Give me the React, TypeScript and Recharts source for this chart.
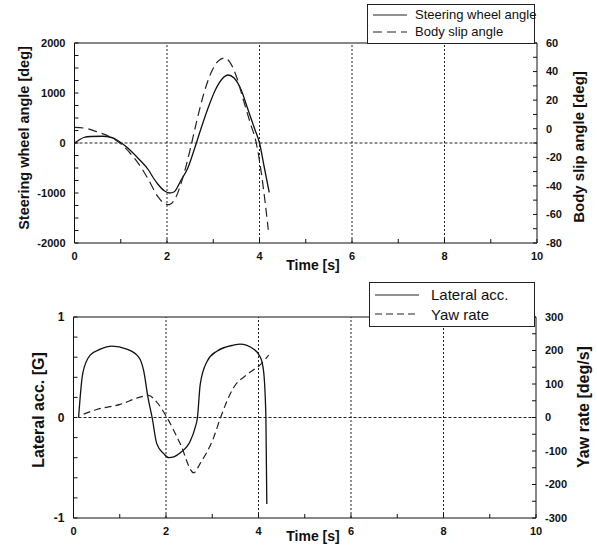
import { LineChart, Line, XAxis, YAxis, ReferenceLine, Legend } from 'recharts'

const FONT = '"Liberation Sans", Arial, Helvetica, sans-serif'

// shared time axis
const timeTicks = [0, 1, 2, 3, 4, 5, 6, 7, 8, 9, 10]
const timeLabels = [0, 2, 4, 6, 8, 10]
const gridTimes = [2, 4, 6, 8]

// upper panel: steering wheel angle [deg] (left) / body slip angle [deg] (right)
const steerTime = [0, 0.1, 0.2, 0.35, 0.6, 0.8, 0.9, 1.0, 1.2, 1.4, 1.6, 1.7, 1.8, 1.95, 2.05, 2.15, 2.3, 2.45, 2.6, 2.75, 2.9, 3.05, 3.2, 3.32, 3.45, 3.6, 3.75, 3.9, 4.0, 4.1, 4.21]
const steerAngle = [0, 60, 110, 130, 135, 110, 70, 10, -140, -330, -540, -690, -820, -960, -1000, -980, -750, -500, -100, 330, 730, 1070, 1290, 1360, 1300, 1070, 670, 270, 0, -470, -990]
const slipTime = [0, 0.25, 0.5, 0.75, 1.0, 1.2, 1.4, 1.6, 1.8, 1.95, 2.05, 2.2, 2.35, 2.5, 2.65, 2.8, 2.95, 3.1, 3.23, 3.35, 3.5, 3.65, 3.8, 3.93, 4.05, 4.19]
const slipAngle = [1, 0.2, -2.3, -5.4, -10.5, -17, -25.2, -35.7, -47.4, -52.5, -53.2, -47.4, -33.4, -14.7, 6.3, 25, 39, 47.1, 49.5, 47, 36.6, 20.3, 4, -10, -33.4, -70.7]
const steerTicks = [-2000, -1750, -1500, -1250, -1000, -750, -500, -250, 0, 250, 500, 750, 1000, 1250, 1500, 1750, 2000]
const steerLabels = [-2000, -1000, 0, 1000, 2000]
const slipTicks = [-80, -70, -60, -50, -40, -30, -20, -10, 0, 10, 20, 30, 40, 50, 60]
const slipLabels = [-80, -60, -40, -20, 0, 20, 40, 60]

// lower panel: lateral acc. [G] (left) / yaw rate [deg/s] (right)
const latTime = [0.11, 0.2, 0.36, 0.58, 0.83, 1.15, 1.41, 1.52, 1.61, 1.7, 1.8, 1.95, 2.06, 2.31, 2.53, 2.63, 2.68, 2.74, 2.89, 3.1, 3.46, 3.6, 3.9, 4.04, 4.11, 4.16, 4.18]
const latAcc = [0, 0.44, 0.62, 0.68, 0.71, 0.68, 0.6, 0.46, 0.2, 0, -0.26, -0.36, -0.4, -0.35, -0.23, -0.1, 0, 0.33, 0.56, 0.66, 0.72, 0.73, 0.68, 0.6, 0.46, 0, -0.86]
const yawTime = [0.22, 0.5, 1.01, 1.44, 1.62, 1.8, 2.02, 2.31, 2.6, 2.74, 3.03, 3.18, 3.46, 3.75, 4.04, 4.22]
const yawRate = [10, 24, 39, 61, 66, 46, 0, -79, -165, -137, -60, 0, 89, 128, 158, 186]
const latTicks = [-1, -0.8, -0.6, -0.4, -0.2, 0, 0.2, 0.4, 0.6, 0.8, 1]
const latLabels = [-1, 0, 1]
const yawTicks = [-300, -250, -200, -150, -100, -50, 0, 50, 100, 150, 200, 250, 300]
const yawLabels = [-300, -200, -100, 0, 100, 200, 300]

type Pt = { t: number; v: number }
const zip = (ts: number[], vs: number[]): Pt[] => ts.map((t, i) => ({ t, v: vs[i] }))

const only = (list: number[]) => (v: number) => (list.some((l) => Math.abs(l - v) < 1e-6) ? String(v) : '')

const GAP = 9 // distance from axis line to tick label
const TICK = 4 // inward tick length

// inward tick mark + bold label
function AxisTick({ x, y, payload, side, labels, fontSize }: any) {
  const label = only(labels)(payload.value)
  const text = { fontSize, fontWeight: 'bold' as const, fill: '#111', fontFamily: FONT }
  if (side === 'bottom') {
    const ay = y - GAP
    return (
      <g>
        <path d={`M${x},${ay}V${ay - TICK}`} stroke="#111" strokeWidth={1} fill="none" />
        <text x={x} y={y} dy="0.71em" textAnchor="middle" {...text}>{label}</text>
      </g>
    )
  }
  const ax = side === 'left' ? x + GAP : x - GAP
  const inward = side === 'left' ? TICK : -TICK
  return (
    <g>
      <path d={`M${ax},${y}H${ax + inward}`} stroke="#111" strokeWidth={1} fill="none" />
      <text x={x} y={y} dy="0.35em" textAnchor={side === 'left' ? 'end' : 'start'} {...text}>{label}</text>
    </g>
  )
}

function Title({ x, y, size, text, vertical }: { x: number; y: number; size: number; text: string; vertical?: boolean }) {
  return (
    <text
      x={x}
      y={y}
      dy="0.35em"
      textAnchor="middle"
      transform={vertical ? `rotate(-90 ${x} ${y})` : undefined}
      fontSize={size}
      fontWeight="bold"
      fill="#111"
      fontFamily={FONT}
    >
      {text}
    </text>
  )
}

function LegendBox({ rows, fontSize, sample, gap }: { rows: { name: string; dash?: string }[]; fontSize: number; sample: number; gap: number }) {
  return (
    <div style={{ border: '1px solid #222', background: '#fff', padding: '2px 5px', fontFamily: FONT, fontSize, color: '#111', lineHeight: 1.3, whiteSpace: 'nowrap' }}>
      {rows.map((r) => (
        <div key={r.name} style={{ display: 'flex', alignItems: 'center' }}>
          <svg width={sample} height={8} style={{ marginRight: gap, flex: 'none' }}>
            <line x1={0} y1={4} x2={sample} y2={4} stroke="#222" strokeWidth={1} strokeDasharray={r.dash} />
          </svg>
          <span>{r.name}</span>
        </div>
      ))}
    </div>
  )
}

interface PanelProps {
  top: number
  height: number
  margin: { top: number; right: number; bottom: number; left: number }
  xHeight: number
  left: { domain: [number, number]; ticks: number[]; labels: number[]; title: string; tx: number; ty: number; size: number; fontSize: number }
  right: { domain: [number, number]; ticks: number[]; labels: number[]; title: string; tx: number; ty: number; size: number }
  timeTitle: { x: number; y: number }
  solid: { name: string; data: Pt[] }
  dashed: { name: string; data: Pt[]; dash: string }
  legend: { left: number; top: number; width: number; fontSize: number; sample: number; gap: number }
}

function Panel(p: PanelProps) {
  return (
    <div style={{ position: 'absolute', left: 0, top: p.top }}>
      <LineChart width={597} height={p.height} margin={p.margin} style={{ fontFamily: FONT }}>
        <XAxis
          type="number"
          dataKey="t"
          domain={[0, 10]}
          ticks={timeTicks}
          interval={0}
          tickLine={false}
          tickSize={0}
          tickMargin={GAP}
          height={p.xHeight}
          stroke="#111"
          tick={<AxisTick side="bottom" labels={timeLabels} fontSize={11} />}
          label={{ content: () => <Title x={p.timeTitle.x} y={p.timeTitle.y} size={14} text="Time [s]" /> }}
        />
        <YAxis
          yAxisId="left"
          type="number"
          domain={p.left.domain}
          ticks={p.left.ticks}
          interval={0}
          tickLine={false}
          tickSize={0}
          tickMargin={GAP}
          width={60}
          stroke="#111"
          tick={<AxisTick side="left" labels={p.left.labels} fontSize={p.left.fontSize} />}
          label={{ content: () => <Title x={p.left.tx} y={p.left.ty} size={p.left.size} text={p.left.title} vertical /> }}
        />
        <YAxis
          yAxisId="right"
          orientation="right"
          type="number"
          domain={p.right.domain}
          ticks={p.right.ticks}
          interval={0}
          tickLine={false}
          tickSize={0}
          tickMargin={GAP}
          width={40}
          stroke="#111"
          tick={<AxisTick side="right" labels={p.right.labels} fontSize={11} />}
          label={{ content: () => <Title x={p.right.tx} y={p.right.ty} size={p.right.size} text={p.right.title} vertical /> }}
        />
        <ReferenceLine yAxisId="left" y={p.left.domain[1]} stroke="#111" />
        <ReferenceLine yAxisId="left" y={0} stroke="#222" strokeDasharray="3 2" />
        {gridTimes.map((t) => (
          <ReferenceLine key={t} yAxisId="left" x={t} stroke="#222" strokeDasharray="2 2" />
        ))}
        <Line yAxisId="left" data={p.solid.data} dataKey="v" name={p.solid.name} type="monotone" stroke="#111" strokeWidth={1.3} dot={false} isAnimationActive={false} />
        <Line yAxisId="right" data={p.dashed.data} dataKey="v" name={p.dashed.name} type="monotone" stroke="#222" strokeWidth={1.2} strokeDasharray={p.dashed.dash} dot={false} isAnimationActive={false} />
        <Legend
          layout="vertical"
          align="center"
          verticalAlign="middle"
          wrapperStyle={{ left: p.legend.left, top: p.legend.top, width: p.legend.width }}
          content={() => (
            <LegendBox
              rows={[{ name: p.solid.name }, { name: p.dashed.name, dash: p.dashed.dash }]}
              fontSize={p.legend.fontSize}
              sample={p.legend.sample}
              gap={p.legend.gap}
            />
          )}
        />
      </LineChart>
    </div>
  )
}

export default function App() {
  return (
    <div style={{ position: 'absolute', left: 0, top: 0, width: 597, height: 547, background: '#fff' }}>
      <Panel
        top={0}
        height={275}
        margin={{ top: 43, right: 20, bottom: 0, left: 14.5 }}
        xHeight={32}
        left={{ domain: [-2000, 2000], ticks: steerTicks, labels: steerLabels, title: 'Steering wheel angle [deg]', tx: 24, ty: 138, size: 14.5, fontSize: 11 }}
        right={{ domain: [-80, 60], ticks: slipTicks, labels: slipLabels, title: 'Body slip angle [deg]', tx: 579, ty: 147, size: 15 }}
        timeTitle={{ x: 313, y: 265 }}
        solid={{ name: 'Steering wheel angle', data: zip(steerTime, steerAngle) }}
        dashed={{ name: 'Body slip angle', data: zip(slipTime, slipAngle), dash: '9 5' }}
        legend={{ left: 367, top: 4, width: 168, fontSize: 13, sample: 34, gap: 8 }}
      />
      <Panel
        top={275}
        height={272}
        margin={{ top: 42, right: 21, bottom: 0, left: 13.5 }}
        xHeight={29}
        left={{ domain: [-1, 1], ticks: latTicks, labels: latLabels, title: 'Lateral acc. [G]', tx: 38, ty: 135, size: 16, fontSize: 12 }}
        right={{ domain: [-300, 300], ticks: yawTicks, labels: yawLabels, title: 'Yaw rate [deg/s]', tx: 583, ty: 132, size: 16 }}
        timeTitle={{ x: 313, y: 261 }}
        solid={{ name: 'Lateral acc.', data: zip(latTime, latAcc) }}
        dashed={{ name: 'Yaw rate', data: zip(yawTime, yawRate), dash: '7 4' }}
        legend={{ left: 369, top: 7, width: 166, fontSize: 15, sample: 44, gap: 12 }}
      />
    </div>
  )
}
